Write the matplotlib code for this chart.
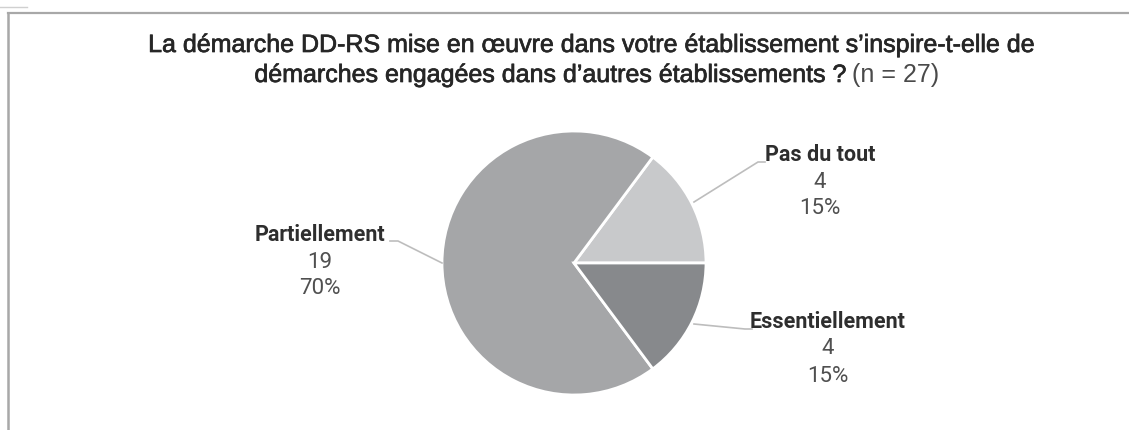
import matplotlib.pyplot as plt
import matplotlib.patheffects as pe

categories = ["Pas du tout", "Partiellement", "Essentiellement"]
counts = [4, 19, 4]
colors = ["#c8c9cb", "#a5a6a8", "#87898c"]
n_total = 27

title_line1 = "La démarche DD-RS mise en œuvre dans votre établissement s\u2019inspire-t-elle de"
title_line2 = "démarches engagées dans d\u2019autres établissements ?"
title_n = "(n = 27)"

W, H = 1129, 430


def py(y):
    # pixel row (from top) -> data y
    return H - y


fig = plt.figure(figsize=(W / 100, H / 100), dpi=100)
ax = fig.add_axes([0, 0, 1, 1])

wedges, _ = ax.pie(counts, colors=colors, startangle=0, counterclock=True,
                   center=(574, py(263)), radius=132,
                   wedgeprops=dict(edgecolor="white", linewidth=2))
ax.set_xlim(0, W)
ax.set_ylim(0, H)
ax.set_aspect("equal")
ax.axis("off")

# chart frame (top and left edges visible in the crop)
ax.plot([8, W], [py(13), py(13)], color="#a8a8a8", lw=1.6)
ax.plot([8, 8], [py(13), 0], color="#a8a8a8", lw=1.8)
ax.plot([0, 27], [py(7), py(7)], color="#d0d0d0", lw=1.0)

thick = [pe.withStroke(linewidth=0.5, foreground="#262626")]

# title
fam = ["Liberation Sans", "DejaVu Sans"]
ax.text(591, py(45), title_line1, ha="center", va="center", fontsize=18,
        family=fam, color="#262626", path_effects=thick)
t_main = ax.text(0, py(75), title_line2, ha="left", va="center", fontsize=18,
                 family=fam, color="#262626", path_effects=thick)
t_n = ax.text(0, py(75), title_n, ha="left", va="center", fontsize=18,
              family=fam, color="#4a4a4a")
fig.canvas.draw()
r = fig.canvas.get_renderer()
w_main = t_main.get_window_extent(r).width
w_n = t_n.get_window_extent(r).width
gap = 7
x0 = 597 - (w_main + gap + w_n) / 2
t_main.set_x(x0)
t_n.set_x(x0 + w_main + gap)

# data labels
label_pos = [(820, 155), (320, 235), (828, 322)]
leaders = [
    [(694, 202), (758, 162), (765, 162)],
    [(442, 263), (398, 241), (390, 241)],
    [(694, 324), (745, 329), (752, 329)],
]
lfam = ["Roboto", "DejaVu Sans"]
for cat, c, (lx, ly), pts in zip(categories, counts, label_pos, leaders):
    pct = round(100 * c / n_total)
    ax.text(lx, py(ly), cat, ha="center", va="center", fontsize=15.5,
            family=lfam, fontweight="bold", color="#2e2e2e")
    ax.text(lx, py(ly + 27), str(c), ha="center", va="center", fontsize=16,
            family=lfam, color="#505050")
    ax.text(lx, py(ly + 54), f"{pct}%", ha="center", va="center", fontsize=16,
            family=lfam, color="#505050")
    xs = [p[0] for p in pts]
    ys = [py(p[1]) for p in pts]
    ax.plot(xs, ys, color="#bdbdbd", lw=1.2)

fig.savefig("out.png", dpi=100, facecolor="white")
